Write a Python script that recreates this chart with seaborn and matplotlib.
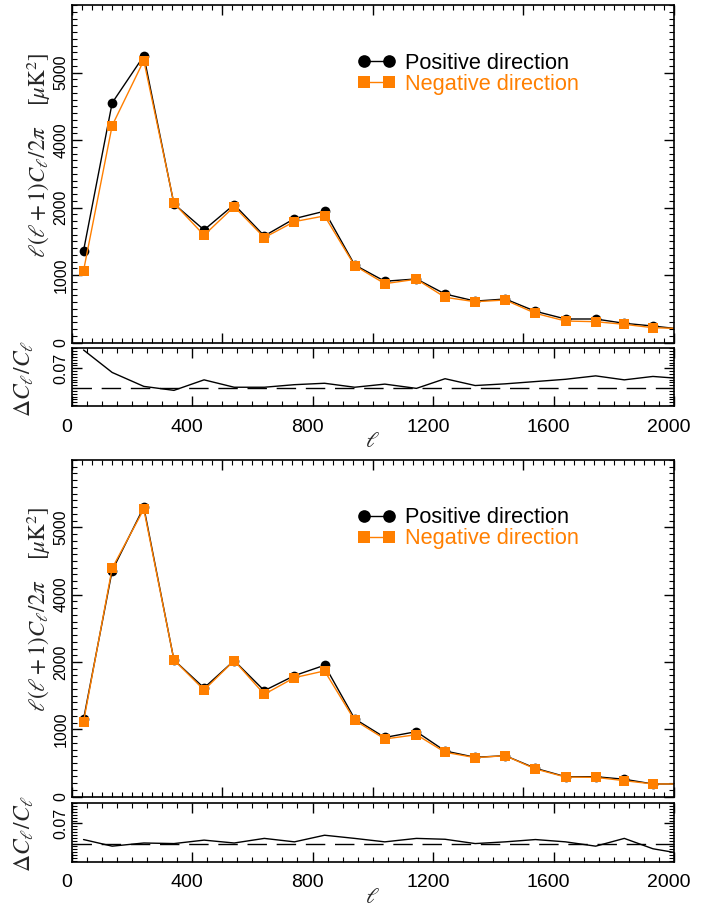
import numpy as np
import pandas as pd
import matplotlib
matplotlib.use("Agg")
import matplotlib.pyplot as plt
import matplotlib.transforms as mtransforms
import seaborn as sns
from matplotlib.ticker import MultipleLocator, FixedLocator, FixedFormatter

# ---------------- data ----------------
ell = [40, 135, 240, 340, 440, 540, 640, 740, 840, 940, 1040, 1145, 1240,
       1340, 1440, 1540, 1640, 1740, 1835, 1930, 2030]

top_pos = [1363, 3551, 4247, 2055, 1670, 2045, 1581, 1837, 1947, 1151, 910,
           944, 721, 616, 647, 465, 351, 351, 287, 247, 198]
top_neg = [1067, 3215, 4178, 2065, 1591, 2015, 1556, 1793, 1877, 1141, 874,
           940, 672, 607, 632, 435, 321, 311, 272, 222, 209]
top_ratio = [0.134, 0.055, 0.006, -0.008, 0.029, 0.003, 0.003, 0.012, 0.017,
             0.003, 0.014, -0.001, 0.033, 0.009, 0.015, 0.023, 0.031, 0.043,
             0.029, 0.041, 0.033]

bot_pos = [1150, 3358, 4300, 2031, 1615, 2021, 1575, 1798, 1952, 1156, 880,
           966, 679, 585, 609, 422, 297, 297, 259, 189, 189]
bot_neg = [1115, 3394, 4270, 2031, 1585, 2021, 1521, 1768, 1868, 1135, 857,
           921, 660, 580, 609, 412, 292, 287, 238, 189, 189]
bot_ratio = [0.014, -0.009, 0.002, 0.0, 0.012, 0.002, 0.018, 0.006, 0.029,
             0.018, 0.006, 0.018, 0.015, 0.0, 0.006, 0.014, 0.006, -0.009,
             0.018, -0.018, -0.036]

main_yticks = [0, 1000, 2000, 3000, 4000]
main_ytick_labels = ["0", "1000", "2000", "4000", "5000"]
ratio_yticks = [0.07]
ratio_ytick_labels = ["0.07"]
xticks = [0, 400, 800, 1200, 1600, 2000]
xtick_labels = ["0", "400", "800", "1200", "1600", "2000"]
series_labels = ["Positive direction", "Negative direction"]

# ---------------- style ----------------
sns.set_style("ticks")
plt.rcParams['font.family'] = ['Liberation Sans', 'DejaVu Sans']
plt.rcParams['mathtext.fontset'] = 'stix'

BLACK = "#000000"
ORANGE = "#ff7f00"

fig = plt.figure(figsize=(7.13, 9.08), dpi=100)

L, W = 71.5 / 713, 602.5 / 713
def frac(top_px, bot_px):
    return [L, 1 - bot_px / 908, W, (bot_px - top_px) / 908]

panels = [
    (frac(5, 342.7), frac(348.3, 406.0), top_pos, top_neg, top_ratio),
    (frac(460, 796.7), frac(803.3, 861.7), bot_pos, bot_neg, bot_ratio),
]

def style_axis(ax):
    for s in ax.spines.values():
        s.set_visible(True)
        s.set_linewidth(1.2)
        s.set_color("black")
    ax.tick_params(which="both", direction="in", top=True, right=True,
                   colors="black")
    ax.tick_params(which="major", length=7, width=1.0)
    ax.tick_params(which="minor", length=3.5, width=0.8)

xshift = mtransforms.ScaledTranslation(-5 / 100, 0, fig.dpi_scale_trans)

for main_rect, ratio_rect, pos, neg, ratio in panels:
    ax = fig.add_axes(main_rect)
    axr = fig.add_axes(ratio_rect)

    df = pd.DataFrame({"ell": ell, "pos": pos, "neg": neg, "ratio": ratio})

    sns.lineplot(data=df, x="ell", y="pos", ax=ax, color=BLACK, lw=1.0,
                 marker="o", markersize=7, markeredgecolor=BLACK,
                 markeredgewidth=0, sort=False, label=series_labels[0])
    sns.lineplot(data=df, x="ell", y="neg", ax=ax, color=ORANGE, lw=1.0,
                 marker="s", markersize=7, markeredgecolor=ORANGE,
                 markeredgewidth=0, sort=False, label=series_labels[1])

    ax.set_xlim(0, 2000)
    ax.set_ylim(0, 5000)
    ax.xaxis.set_major_locator(MultipleLocator(500))
    ax.xaxis.set_minor_locator(MultipleLocator(500 / 15))
    ax.yaxis.set_major_locator(FixedLocator(main_yticks))
    ax.yaxis.set_major_formatter(FixedFormatter(main_ytick_labels))
    ax.yaxis.set_minor_locator(MultipleLocator(100))
    ax.set_xticklabels([])
    ax.set_xlabel("")
    ax.set_ylabel("")
    style_axis(ax)
    ax.tick_params(axis="y", labelrotation=90, labelsize=11.5, pad=2)
    for t in ax.get_yticklabels():
        t.set_va("center")

    ax.text(-0.054, 0.556, r"$\ell(\ell+1)C_\ell/2\pi\ \ \ \ [\mu\mathrm{K}^2]$",
            transform=ax.transAxes, rotation=90, ha="center", va="center",
            fontsize=16.5)

    leg = ax.legend(loc="upper left", bbox_to_anchor=(0.46, 0.885),
                    frameon=False, numpoints=2, handlelength=1.75,
                    markerscale=1.3, labelcolor="linecolor", fontsize=15.7,
                    handletextpad=0.45, labelspacing=0.0, borderaxespad=0)

    sns.lineplot(data=df, x="ell", y="ratio", ax=axr, color=BLACK, lw=1.0,
                 sort=False)
    axr.axhline(0, color=BLACK, lw=1.0, ls=(0, (14, 7)))
    axr.set_xlim(0, 2000)
    axr.set_ylim(-0.063, 0.14)
    axr.xaxis.set_major_locator(FixedLocator(xticks))
    axr.xaxis.set_major_formatter(FixedFormatter(xtick_labels))
    axr.xaxis.set_minor_locator(MultipleLocator(50))
    axr.yaxis.set_major_locator(FixedLocator(ratio_yticks))
    axr.yaxis.set_major_formatter(FixedFormatter(ratio_ytick_labels))
    axr.yaxis.set_minor_locator(MultipleLocator(0.01))
    axr.set_ylabel("")
    style_axis(axr)
    axr.tick_params(axis="x", labelsize=14, pad=9)
    axr.tick_params(axis="y", labelrotation=90, labelsize=11.5, pad=2)
    for t in axr.get_yticklabels():
        t.set_va("center")
    for t in axr.get_xticklabels():
        t.set_transform(t.get_transform() + xshift)
    axr.set_xlabel(r"$\ell$", fontsize=16, labelpad=-3)
    axr.text(-0.079, 0.48, r"$\Delta C_\ell/C_\ell$", transform=axr.transAxes,
             rotation=90, ha="center", va="center", fontsize=17)

fig.savefig("out.png", dpi=100)
